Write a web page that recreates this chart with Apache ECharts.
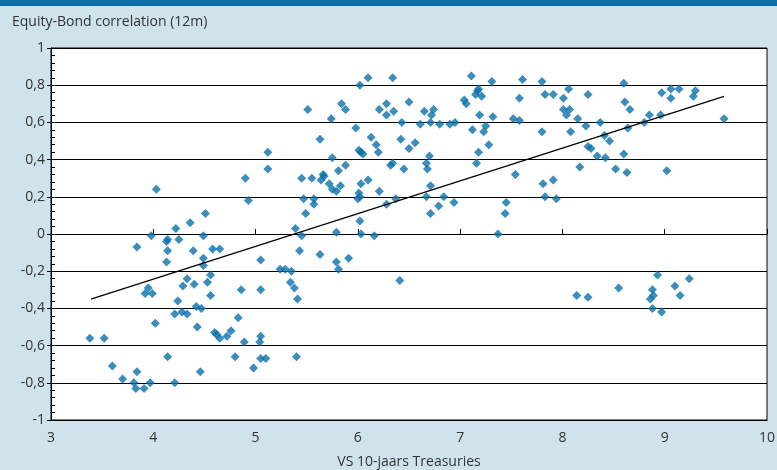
<!DOCTYPE html>
<html>
<head>
<meta charset="utf-8">
<script src="https://cdn.jsdelivr.net/npm/echarts@6/dist/echarts.min.js"></script>
<style>
  html, body { margin: 0; padding: 0; background: #cfe3ed; }
  #chart { width: 777px; height: 470px; }
</style>
</head>
<body>
<div id="chart"></div>
<script>
// US 10-year Treasury yield (x) against 12-month equity-bond correlation (y)
const treasuryYield = [
  3.98, 3.84, 4.14, 4.13, 4.25, 4.14, 4.49, 4.39, 4.49, 4.58, 4.65, 4.13, 4.49, 5.05, 5.24, 5.29,
  5.35, 5.34, 4.56, 4.53, 4.33, 4.29, 4.40, 4.56, 3.95, 3.92, 3.99, 4.86, 5.05, 4.24, 4.42, 4.47,
  4.28, 4.33, 4.21, 4.02, 4.43, 4.83, 4.60, 4.62, 4.65, 4.72, 4.76, 4.89, 5.05, 5.04, 3.38, 3.52,
  4.14, 4.80, 5.05, 5.10, 4.98, 3.60, 3.84, 4.46, 3.70, 3.81, 3.97, 4.21, 3.83, 3.91,
  4.03, 4.22, 4.36, 4.51, 4.90, 5.12, 5.12, 4.93,
  5.39, 5.45, 5.51, 5.63, 5.45, 5.55, 5.47, 5.57, 5.57, 5.49, 5.66, 5.67, 5.64, 5.75, 5.74, 5.84,
  5.88, 5.81, 5.88, 5.72, 5.75, 5.79, 5.83, 5.79, 6.02, 6.10, 6.34, 5.98, 6.01, 6.03, 6.05, 6.03,
  6.10, 6.01, 6.02, 6.00, 6.02, 6.03, 6.16, 6.13, 6.18, 6.20, 6.21, 6.28, 6.28, 6.35, 6.21, 6.28,
  6.37, 6.32, 6.34, 6.45, 6.43, 6.42, 6.50, 6.50, 6.56, 6.61, 6.65, 6.74, 6.72, 6.71, 6.80, 6.70,
  6.67, 6.68, 6.71, 6.67, 6.84, 6.79, 6.71, 6.94, 6.90, 6.95, 7.04, 7.06, 7.11, 7.15, 7.17, 7.18,
  7.21, 7.19, 7.12, 7.23, 7.25, 7.31, 7.32, 7.28, 7.18, 7.16, 7.61, 7.58, 7.52, 7.58, 7.54, 7.45,
  7.44, 7.37,
  5.43, 5.63, 5.79, 5.91, 5.81, 5.38, 5.41, 6.41, 5.40,
  7.80, 7.83, 7.91, 8.06, 8.01, 8.01, 8.04, 8.07, 8.25, 8.15, 7.80, 8.08, 8.23, 8.37, 8.41, 8.46,
  8.25, 8.28, 8.34, 8.42, 8.17, 8.60, 8.61, 8.66, 8.64, 8.80, 8.85, 8.60, 8.52, 8.63, 7.81, 7.91,
  7.83, 7.94, 8.96, 8.97, 9.06, 9.14, 9.06, 9.28, 9.30, 9.02, 9.58,
  8.14, 8.25, 8.55, 8.93, 8.88, 8.89, 8.86, 8.88, 8.97, 9.10, 9.24, 9.15
];
const correlation = [
  -0.01, -0.07, -0.03, -0.04, -0.03, -0.09, -0.01, -0.09, -0.13, -0.08, -0.08, -0.15, -0.17, -0.14, -0.19, -0.19,
  -0.20, -0.26, -0.22, -0.26, -0.24, -0.28, -0.27, -0.33, -0.29, -0.32, -0.32, -0.30, -0.30, -0.36, -0.39, -0.40,
  -0.42, -0.43, -0.43, -0.48, -0.50, -0.45, -0.53, -0.54, -0.56, -0.55, -0.52, -0.58, -0.55, -0.58, -0.56, -0.56,
  -0.66, -0.66, -0.67, -0.67, -0.72, -0.71, -0.74, -0.74, -0.78, -0.80, -0.80, -0.80, -0.83, -0.83,
  0.24, 0.03, 0.06, 0.11, 0.30, 0.44, 0.35, 0.18,
  0.03, -0.01, 0.67, 0.51, 0.30, 0.30, 0.19, 0.19, 0.16, 0.11, 0.32, 0.31, 0.29, 0.41, 0.62, 0.70,
  0.67, 0.34, 0.37, 0.27, 0.24, 0.23, 0.26, 0.01, 0.80, 0.84, 0.84, 0.57, 0.45, 0.44, 0.43, 0.27,
  0.29, 0.22, 0.20, 0.19, 0.07, 0.00, -0.01, 0.52, 0.48, 0.44, 0.67, 0.70, 0.64, 0.66, 0.23, 0.16,
  0.19, 0.37, 0.38, 0.35, 0.60, 0.51, 0.71, 0.46, 0.49, 0.59, 0.66, 0.67, 0.64, 0.60, 0.59, 0.42,
  0.38, 0.35, 0.26, 0.20, 0.20, 0.15, 0.11, 0.17, 0.59, 0.60, 0.72, 0.70, 0.85, 0.75, 0.77, 0.78,
  0.74, 0.64, 0.56, 0.55, 0.58, 0.82, 0.63, 0.48, 0.44, 0.38, 0.83, 0.73, 0.62, 0.61, 0.32, 0.17,
  0.11, 0.00,
  -0.09, -0.11, -0.15, -0.13, -0.19, -0.29, -0.35, -0.25, -0.66,
  0.82, 0.75, 0.75, 0.78, 0.73, 0.67, 0.64, 0.67, 0.75, 0.62, 0.55, 0.55, 0.58, 0.60, 0.53, 0.50,
  0.47, 0.46, 0.42, 0.41, 0.36, 0.81, 0.71, 0.67, 0.57, 0.60, 0.64, 0.43, 0.35, 0.33, 0.27, 0.29,
  0.20, 0.19, 0.64, 0.76, 0.78, 0.78, 0.73, 0.74, 0.77, 0.34, 0.62,
  -0.33, -0.34, -0.29, -0.22, -0.30, -0.33, -0.35, -0.40, -0.42, -0.28, -0.24, -0.33
];
// Linear trend line endpoints
const trendX = [3.39, 9.58];
const trendY = [-0.35, 0.74];

const xTicks = { min: 3, max: 10, interval: 1 };
const yTicks = { min: -1, max: 1, interval: 0.2 };

const points = treasuryYield.map((x, i) => [x, correlation[i]]);
const trend = trendX.map((x, i) => [x, trendY[i]]);

const FONT = 'Open Sans';
const TXT = '#333333';

const chart = echarts.init(document.getElementById('chart'), null, { renderer: 'canvas' });
chart.setOption({
  animation: false,
  backgroundColor: '#cfe3ed',
  textStyle: { fontFamily: FONT },
  title: {
    text: 'Equity-Bond correlation (12m)',
    left: 7, top: 10,
    textStyle: { fontFamily: FONT, fontSize: 14, fontWeight: 'normal', color: TXT }
  },
  graphic: [{
    type: 'rect', left: 0, top: 0,
    shape: { width: 777, height: 6 },
    style: { fill: '#0b6ea6' }, silent: true
  }],
  grid: {
    left: 51, right: 10, top: 48, bottom: 50,
    outerBoundsMode: 'none',
    show: true, backgroundColor: '#ffffff', borderColor: '#000000', borderWidth: 1
  },
  xAxis: [{
    type: 'value', position: 'bottom',
    min: xTicks.min, max: xTicks.max, interval: xTicks.interval,
    axisLine: { onZero: false, lineStyle: { color: '#000', width: 1 } },
    axisTick: { show: false },
    splitLine: { show: false },
    axisLabel: { color: TXT, fontSize: 14, fontFamily: FONT, margin: 11 },
    name: 'VS 10-jaars Treasuries', nameLocation: 'middle', nameGap: 35,
    nameTextStyle: { color: TXT, fontSize: 14, fontFamily: FONT }
  }, {
    type: 'value', position: 'bottom',
    min: xTicks.min, max: xTicks.max, interval: xTicks.interval,
    axisLine: { show: true, onZero: true, onZeroAxisIndex: 0, lineStyle: { color: '#000', width: 1 } },
    axisTick: { show: true, inside: true, length: 5, lineStyle: { color: '#000' } },
    axisLabel: { show: false },
    splitLine: { show: false }
  }],
  yAxis: [{
    type: 'value',
    min: yTicks.min, max: yTicks.max, interval: yTicks.interval,
    axisLine: { show: true, lineStyle: { color: '#000', width: 1 } },
    axisTick: { show: true, length: 4, lineStyle: { color: '#000' } },
    splitLine: { show: true, lineStyle: { color: '#000', width: 1 } },
    axisLabel: {
      color: TXT, fontSize: 14, fontFamily: FONT, margin: 6,
      formatter: v => {
        const r = Math.round(v * 10) / 10;
        return String(r).replace('.', ',');
      }
    }
  }, {
    type: 'value', position: 'left',
    min: yTicks.min, max: yTicks.max, interval: yTicks.interval,
    axisLine: { show: false },
    axisTick: { show: false, inside: true },
    minorTick: { show: true, splitNumber: 5, length: 4, lineStyle: { color: '#000' } },
    splitLine: { show: false },
    axisLabel: { show: false }
  }],
  series: [{
    type: 'scatter',
    data: points,
    symbol: 'diamond',
    symbolSize: 9,
    itemStyle: { color: '#0a70aa' },
    z: 3
  }, {
    type: 'line',
    data: trend,
    symbol: 'none',
    lineStyle: { color: '#000', width: 1.2 },
    z: 4
  }]
});
</script>
</body>
</html>
